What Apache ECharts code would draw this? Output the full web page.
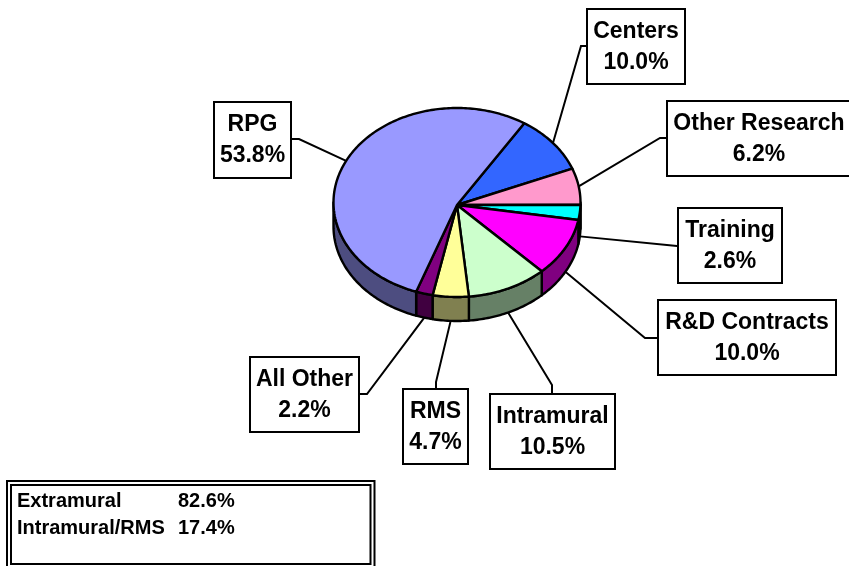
<!DOCTYPE html>
<html>
<head>
<meta charset="utf-8">
<style>
  html, body { margin: 0; padding: 0; background: #fff; }
  #chart { width: 849px; height: 566px; }
</style>
<script src="https://cdn.jsdelivr.net/npm/echarts@6/dist/echarts.min.js"></script>
</head>
<body>
<div id="chart"></div>
<script>
// slices, clockwise from the first one
const categories = ['Centers', 'Other Research', 'Training', 'R&D Contracts', 'Intramural', 'RMS', 'All Other', 'RPG']
const shares = [10.0, 6.2, 2.6, 10.0, 10.5, 4.7, 2.2, 53.8]
const noteNames = ['Extramural', 'Intramural/RMS']
const noteShares = ['82.6%', '17.4%']

const topColors = ['#3366FF', '#FF99CC', '#00FFFF', '#FF00FF', '#CCFFCC', '#FFFF99', '#800080', '#9999FF']
const sideColors = ['#1A3380', '#804D66', '#008080', '#800080', '#668066', '#808050', '#400040', '#4D4D80']

// label box [left, top, right, bottom], then the elbow of its leader line
const labelBoxes = [
  [587, 9, 685, 84], [667, 101, 851, 176], [678, 208, 782, 283], [658, 300, 836, 375],
  [490, 394, 615, 469], [403, 389, 468, 464], [250, 357, 359, 432], [214, 102, 291, 178]
]
const leaderElbows = [
  [[581, 46], [587, 46]], [[660, 138], [667, 138]], [[677, 246], [678, 246]], [[645, 338], [658, 338]],
  [[552, 385], [552, 394]], [[436, 382], [436, 389]], [[367, 394], [359, 394]], [[299, 139], [291, 139]]
]

const cx = 457
const cy = 202.5
const rx = 123.5
const ry = 94.5
const depth = 24
const startAngle = 33
const font = 'bold 23px "Liberation Sans", Arial, sans-serif'

// angle in degrees, clockwise from the top of the pie
function edgePoint (angle, drop) {
  const a = angle * Math.PI / 180
  return [cx + rx * Math.sin(a), cy - ry * Math.cos(a) + (drop || 0)]
}

function arcPoints (from, to, drop) {
  const pts = []
  const steps = Math.max(2, Math.ceil(Math.abs(to - from)))
  for (let i = 0; i <= steps; i++) {
    pts.push(edgePoint(from + (to - from) * i / steps, drop))
  }
  return pts
}

function sliceRange (index) {
  let from = startAngle
  for (let i = 0; i < index; i++) {
    from += shares[i] * 3.6
  }
  return [from, from + shares[index] * 3.6]
}

function renderSide (params, api) {
  const range = sliceRange(params.dataIndex)
  const from = Math.max(range[0], 90)
  const to = Math.min(range[1], 270)
  if (from >= to) {
    return { type: 'group', children: [] }
  }
  return {
    type: 'polygon',
    shape: { points: arcPoints(from, to, 0).concat(arcPoints(to, from, depth)) },
    style: { fill: sideColors[params.dataIndex], stroke: '#000', lineWidth: 2.4, lineJoin: 'round' }
  }
}

function renderTop (params, api) {
  const range = sliceRange(params.dataIndex)
  return {
    type: 'polygon',
    shape: { points: [[cx, cy + 2.5]].concat(arcPoints(range[0], range[1], 0)) },
    style: { fill: topColors[params.dataIndex], stroke: '#000', lineWidth: 2.4, lineJoin: 'round' }
  }
}

function renderLabel (params, api) {
  const i = params.dataIndex
  const range = sliceRange(i)
  const mid = (range[0] + range[1]) / 2
  const isFront = mid > 90 && mid < 270
  const box = labelBoxes[i]
  const textX = (box[0] + box[2]) / 2
  const textY = (box[1] + box[3]) / 2
  return {
    type: 'group',
    children: [
      {
        type: 'polyline',
        shape: { points: [edgePoint(mid, isFront ? depth : 0)].concat(leaderElbows[i]) },
        style: { fill: null, stroke: '#000', lineWidth: 2 }
      },
      {
        type: 'rect',
        shape: { x: box[0], y: box[1], width: box[2] - box[0], height: box[3] - box[1] },
        style: { fill: '#fff', stroke: '#000', lineWidth: 2 }
      },
      {
        type: 'text',
        style: { text: categories[i], x: textX, y: textY - 15, align: 'center', verticalAlign: 'middle', font: font, fill: '#000' }
      },
      {
        type: 'text',
        style: { text: api.value(0).toFixed(1) + '%', x: textX, y: textY + 16, align: 'center', verticalAlign: 'middle', font: font, fill: '#000' }
      }
    ]
  }
}

const noteFont = 'bold 20px "Liberation Sans", Arial, sans-serif'
const noteText = []
noteNames.forEach(function (name, i) {
  noteText.push({
    type: 'text',
    style: { text: name, x: 17, y: 501 + i * 27, verticalAlign: 'middle', font: noteFont, fill: '#000' }
  })
  noteText.push({
    type: 'text',
    style: { text: noteShares[i], x: 178, y: 501 + i * 27, verticalAlign: 'middle', font: noteFont, fill: '#000' }
  })
})

const chart = echarts.init(document.getElementById('chart'))
chart.setOption({
  animation: false,
  backgroundColor: '#fff',
  series: [
    { type: 'custom', coordinateSystem: 'none', silent: true, data: shares, renderItem: renderSide, z: 1 },
    { type: 'custom', coordinateSystem: 'none', silent: true, data: shares, renderItem: renderTop, z: 2 },
    { type: 'custom', coordinateSystem: 'none', silent: true, data: shares, renderItem: renderLabel, z: 3 }
  ],
  graphic: [
    { type: 'rect', shape: { x: 7, y: 481, width: 367.5, height: 88 }, style: { fill: '#fff', stroke: '#000', lineWidth: 2 } },
    { type: 'rect', shape: { x: 11, y: 485, width: 359.5, height: 79 }, style: { fill: '#fff', stroke: '#000', lineWidth: 2 } }
  ].concat(noteText)
})
</script>
</body>
</html>
